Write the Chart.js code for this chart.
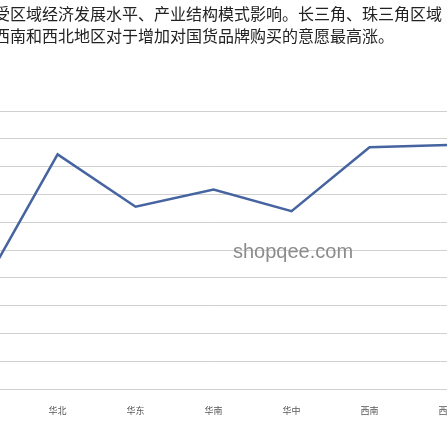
<!DOCTYPE html>
<html>
<head>
<meta charset="utf-8">
<script src="https://cdn.jsdelivr.net/npm/chart.js@4/dist/chart.umd.min.js"></script>
<style>
    html, body { margin: 0; padding: 0; background: #ffffff; overflow: hidden; }
    #page { position: relative; width: 447px; height: 447px; overflow: hidden; }
    #intro {
        position: absolute; left: -6px; top: 2px; width: 460px;
        font-family: "Noto Sans CJK SC", sans-serif; font-size: 16px; line-height: 22px;
        color: #222222; white-space: nowrap; z-index: 2;
    }
    #mark {
        position: absolute; left: 233px; top: 240px; z-index: 2;
        font-family: "Liberation Sans", Arial, sans-serif; font-size: 20px; color: #8c8c8c;
    }
    #wrap { position: absolute; left: -80px; top: 0; width: 600px; height: 447px; }
</style>
</head>
<body>
<div id="page">
    <div id="intro">受区域经济发展水平、产业结构模式影响。长三角、珠三角区域<br>西南和西北地区对于增加对国货品牌购买的意愿最高涨。</div>
    <div id="wrap"><canvas id="regionChart"></canvas></div>
    <div id="mark">shopqee.com</div>
</div>
<script>
// regions, the first one sits off the left edge of the crop
const regions = ['东北', '华北', '华东', '华南', '华中', '西南', '西北'];
const willingness = [17.3, 42.2, 32.8, 35.9, 32.0, 43.5, 43.9];
const yMin = 0;
const yMax = 50;
const yStep = 5;

const ctx = document.getElementById('regionChart');

new Chart(ctx, {
    type: 'line',
    data: {
        labels: regions,
        datasets: [{
            label: '意愿',
            data: willingness,
            borderColor: '#46649f',
            borderWidth: 2.5,
            pointRadius: 0,
            tension: 0,
            fill: false
        }]
    },
    options: {
        responsive: true,
        maintainAspectRatio: false,
        animation: false,
        layout: {
            padding: { left: 13.5, right: 33.5, top: 111, bottom: 23 }
        },
        plugins: {
            legend: { display: false },
            tooltip: { enabled: false }
        },
        scales: {
            x: {
                offset: true,
                grid: { display: false },
                border: { display: true, color: '#d0d0d0', width: 1 },
                ticks: {
                    color: '#595959',
                    padding: 8,
                    maxRotation: 0,
                    font: { family: 'Noto Sans CJK SC', size: 9 }
                }
            },
            y: {
                min: yMin,
                max: yMax,
                ticks: { stepSize: yStep, color: 'rgba(0,0,0,0)', font: { size: 1 } },
                grid: { display: true, color: '#d0d0d0', lineWidth: 1, drawTicks: false },
                border: { display: false }
            }
        }
    }
});
</script>
</body>
</html>
